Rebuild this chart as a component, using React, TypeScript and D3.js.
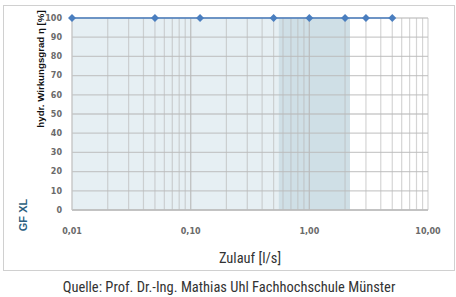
import React from "react";
import * as d3 from "d3";

const W = 456;
const H = 297;
const MARGIN = { top: 18, right: 28, bottom: 87, left: 72 };

// Zulauf [l/s] and efficiency [%]
const flows = [0.01, 0.05, 0.12, 0.5, 1, 2, 3, 5];
const efficiency = [100, 100, 100, 100, 100, 100, 100, 100];

// shaded ranges on the flow axis
const lightRange = [0.01, 0.55];
const darkRange = [0.55, 2.2];

const xTicks = [0.01, 0.1, 1, 10];
const yTicks = [0, 10, 20, 30, 40, 50, 60, 70, 80, 90, 100];

const fmt = (v: number) => v.toFixed(2).replace(".", ",");

const App = () => {
  const innerW = W - MARGIN.left - MARGIN.right;
  const innerH = H - MARGIN.top - MARGIN.bottom;

  const x = d3.scaleLog().domain([0.01, 10]).range([0, innerW]);
  const y = d3.scaleLinear().domain([0, 100]).range([innerH, 0]);

  const minor: number[] = [];
  [0.01, 0.1, 1].forEach((d) => {
    for (let k = 1; k <= 10; k++) minor.push(d * k);
  });

  const line = d3
    .line<number>()
    .x((d, i) => x(flows[i]))
    .y((d) => y(d));

  const diamond = d3.symbol().type(d3.symbolDiamond2).size(40)();

  const narrow = "'Liberation Sans Narrow', 'Roboto Condensed', 'Arial Narrow', sans-serif";

  return (
    <svg
      width={W}
      height={H}
      style={{ position: "absolute", left: 0, top: 0, background: "#fff" }}
    >
      <rect x={3.5} y={5.5} width={451} height={265} fill="#fff" stroke="#d0d0d0" />
      <g transform={`translate(${MARGIN.left},${MARGIN.top})`}>
        <rect
          x={x(lightRange[0])}
          y={0}
          width={x(lightRange[1]) - x(lightRange[0])}
          height={innerH}
          fill="#e6eff3"
        />
        <rect
          x={x(darkRange[0])}
          y={0}
          width={x(darkRange[1]) - x(darkRange[0])}
          height={innerH}
          fill="#cfdfe6"
        />
        {minor.map((v, i) => (
          <line
            key={"v" + i}
            x1={x(v)}
            x2={x(v)}
            y1={0}
            y2={innerH}
            stroke="#b9b9b9"
            strokeOpacity={0.6}
            strokeWidth={1.2}
          />
        ))}
        {yTicks.map((t) => (
          <line
            key={"h" + t}
            x1={0}
            x2={innerW}
            y1={y(t)}
            y2={y(t)}
            stroke="#b9b9b9"
            strokeOpacity={0.75}
            strokeWidth={1.3}
          />
        ))}
        <line x1={0} x2={innerW} y1={innerH} y2={innerH} stroke="#bdbdbd" strokeWidth={1.3} />
        <line x1={0} x2={0} y1={0} y2={innerH} stroke="#c8c8c8" strokeWidth={1} />
        {yTicks.map((t) => (
          <text
            key={"yt" + t}
            x={-10}
            y={y(t)}
            dy="0.35em"
            textAnchor="end"
            fontSize={8}
            fontWeight="bold"
            fill="#6a6a6a"
            fontFamily="'DejaVu Sans', sans-serif"
          >
            {t}
          </text>
        ))}
        {xTicks.map((t) => (
          <text
            key={"xt" + t}
            x={x(t)}
            y={innerH + 24}
            textAnchor="middle"
            fontSize={8}
            fontWeight="bold"
            fill="#6a6a6a"
            fontFamily="'DejaVu Sans', sans-serif"
          >
            {fmt(t)}
          </text>
        ))}
        <path d={line(efficiency) || ""} fill="none" stroke="#4a7ebf" strokeWidth={1.6} />
        {efficiency.map((v, i) => (
          <path
            key={"p" + i}
            d={diamond || ""}
            transform={`translate(${x(flows[i])},${y(v)})`}
            fill="#4a7ebf"
          />
        ))}
      </g>
      <text
        transform="translate(44,69) rotate(-90)"
        textAnchor="middle"
        fontSize={9.7}
        fontWeight="bold"
        fill="#111"
        fontFamily="'Liberation Sans', Arial, sans-serif"
      >
        hydr. Wirkungsgrad η [%]
      </text>
      <text
        transform="translate(27,215) rotate(-90)"
        textAnchor="middle"
        fontSize={11}
        fontWeight="bold"
        fill="#2b5f80"
        fontFamily="'Liberation Sans', Arial, sans-serif"
      >
        GF XL
      </text>
      <text
        x={250}
        y={263}
        textAnchor="middle"
        fontSize={14.5}
        fill="#333"
        fontFamily={narrow}
      >
        Zulauf [l/s]
      </text>
      <text
        x={229}
        y={292}
        textAnchor="middle"
        fontSize={14.5}
        fill="#333"
        fontFamily={narrow}
      >
        Quelle: Prof. Dr.-Ing. Mathias Uhl Fachhochschule Münster
      </text>
    </svg>
  );
};

export default App;
